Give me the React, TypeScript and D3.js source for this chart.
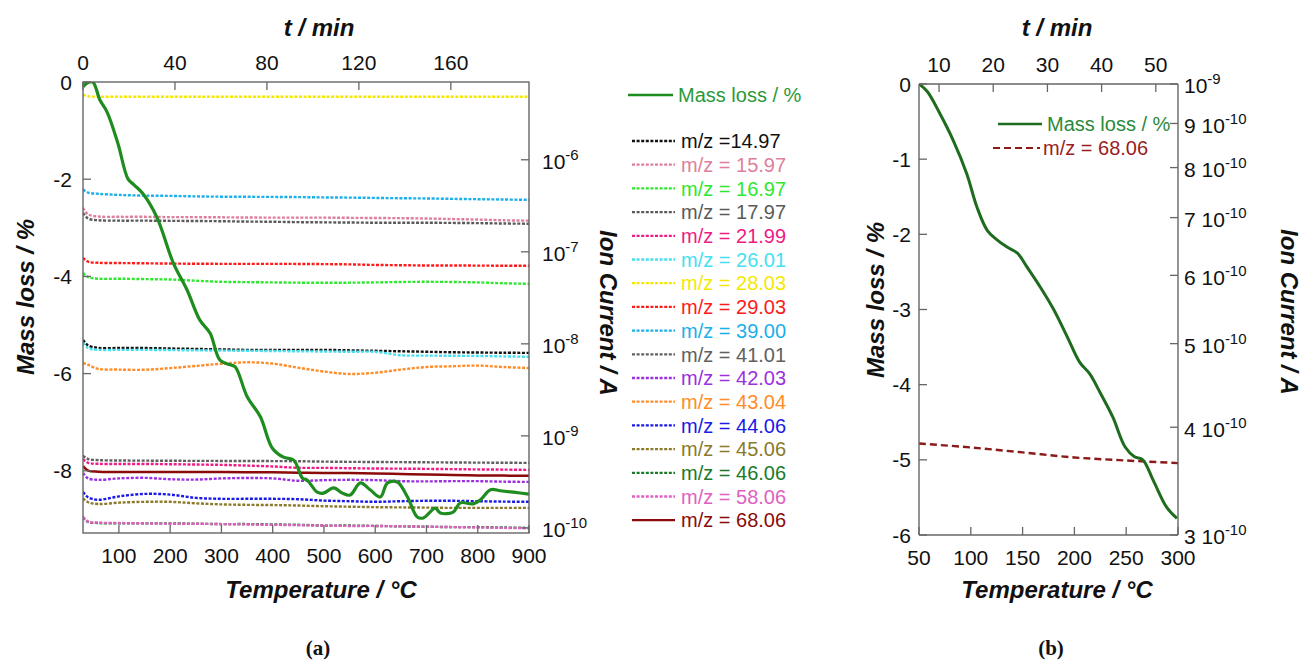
import React from 'react';
import * as d3 from 'd3';

// ---------- Panel (a) data ----------
const massTempA = [30, 38, 49, 63, 77, 98, 118, 130, 147, 174, 206, 233, 258, 278, 297, 317, 327, 350, 376, 399, 421, 441, 458, 467, 487, 499, 519, 536, 551, 571, 590, 610, 624, 643, 663, 682, 694, 717, 727, 752, 766, 791, 805, 825, 844, 870, 900];
const massLossA = [-0.1, -0.02, 0, -0.37, -0.62, -1.26, -2.0, -2.12, -2.3, -2.78, -3.72, -4.28, -4.9, -5.17, -5.72, -5.82, -5.86, -6.47, -6.89, -7.53, -7.72, -7.78, -8.15, -8.19, -8.44, -8.46, -8.35, -8.46, -8.5, -8.25, -8.39, -8.54, -8.25, -8.23, -8.54, -8.95, -8.97, -8.77, -8.87, -8.85, -8.66, -8.68, -8.6, -8.39, -8.41, -8.44, -8.48];

const msTemp = [30, 40, 60, 100, 150, 200, 250, 300, 350, 400, 450, 500, 550, 600, 650, 700, 750, 800, 850, 900];
const mz1497 = [1.1e-8, 9.6e-9, 9.05e-9, 9.0e-9, 9.0e-9, 8.9e-9, 8.8e-9, 8.7e-9, 8.6e-9, 8.6e-9, 8.6e-9, 8.6e-9, 8.5e-9, 8.4e-9, 8.3e-9, 8.2e-9, 8.1e-9, 8.05e-9, 8.0e-9, 7.98e-9];
const mz1597 = [3.0e-7, 2.55e-7, 2.42e-7, 2.4e-7, 2.4e-7, 2.38e-7, 2.38e-7, 2.37e-7, 2.36e-7, 2.35e-7, 2.35e-7, 2.35e-7, 2.34e-7, 2.33e-7, 2.32e-7, 2.3e-7, 2.27e-7, 2.24e-7, 2.2e-7, 2.18e-7];
const mz1697 = [5.9e-8, 5.3e-8, 5.1e-8, 5.1e-8, 5.05e-8, 5.0e-8, 4.85e-8, 4.72e-8, 4.68e-8, 4.65e-8, 4.62e-8, 4.61e-8, 4.62e-8, 4.65e-8, 4.7e-8, 4.72e-8, 4.7e-8, 4.65e-8, 4.55e-8, 4.49e-8];
const mz1797 = [2.65e-7, 2.3e-7, 2.2e-7, 2.18e-7, 2.18e-7, 2.17e-7, 2.16e-7, 2.15e-7, 2.13e-7, 2.12e-7, 2.1e-7, 2.09e-7, 2.08e-7, 2.07e-7, 2.07e-7, 2.07e-7, 2.06e-7, 2.05e-7, 2.03e-7, 2.02e-7];
const mz2199 = [5.6e-10, 5.1e-10, 4.97e-10, 4.95e-10, 4.95e-10, 4.92e-10, 4.88e-10, 4.84e-10, 4.75e-10, 4.65e-10, 4.5e-10, 4.49e-10, 4.45e-10, 4.42e-10, 4.4e-10, 4.38e-10, 4.35e-10, 4.32e-10, 4.3e-10, 4.27e-10];
const mz2601 = [1.03e-8, 9.0e-9, 8.6e-9, 8.6e-9, 8.6e-9, 8.55e-9, 8.5e-9, 8.45e-9, 8.4e-9, 8.35e-9, 8.3e-9, 8.25e-9, 8.2e-9, 8.18e-9, 7.5e-9, 7.45e-9, 7.42e-9, 7.38e-9, 7.3e-9, 7.23e-9];
const mz2803 = [5.1e-6, 4.9e-6, 4.85e-6, 4.84e-6, 4.84e-6, 4.84e-6, 4.84e-6, 4.84e-6, 4.84e-6, 4.84e-6, 4.84e-6, 4.84e-6, 4.84e-6, 4.84e-6, 4.84e-6, 4.84e-6, 4.84e-6, 4.84e-6, 4.84e-6, 4.84e-6];
const mz2903 = [8.6e-8, 7.8e-8, 7.6e-8, 7.55e-8, 7.5e-8, 7.45e-8, 7.42e-8, 7.4e-8, 7.4e-8, 7.4e-8, 7.38e-8, 7.35e-8, 7.3e-8, 7.2e-8, 7.15e-8, 7.1e-8, 7.1e-8, 7.08e-8, 7.06e-8, 7.05e-8];
const mz3900 = [4.75e-7, 4.4e-7, 4.27e-7, 4.15e-7, 4.08e-7, 4.05e-7, 4.0e-7, 3.97e-7, 3.96e-7, 3.95e-7, 3.93e-7, 3.9e-7, 3.88e-7, 3.85e-7, 3.82e-7, 3.8e-7, 3.76e-7, 3.73e-7, 3.7e-7, 3.67e-7];
const mz4101 = [6.1e-10, 5.6e-10, 5.45e-10, 5.4e-10, 5.38e-10, 5.36e-10, 5.35e-10, 5.34e-10, 5.33e-10, 5.32e-10, 5.3e-10, 5.25e-10, 5.22e-10, 5.2e-10, 5.18e-10, 5.16e-10, 5.14e-10, 5.12e-10, 5.1e-10, 5.09e-10];
const mz4203 = [3.96e-10, 3.45e-10, 3.33e-10, 3.45e-10, 3.5e-10, 3.38e-10, 3.35e-10, 3.45e-10, 3.48e-10, 3.45e-10, 3.25e-10, 3.3e-10, 3.33e-10, 3.3e-10, 3.22e-10, 3.2e-10, 3.22e-10, 3.22e-10, 3.18e-10, 3.16e-10];
const mz4304 = [6.2e-9, 5.9e-9, 5.35e-9, 5.25e-9, 5.23e-9, 5.45e-9, 5.75e-9, 6.07e-9, 6.3e-9, 6.1e-9, 5.5e-9, 5.0e-9, 4.7e-9, 4.85e-9, 5.25e-9, 5.6e-9, 5.7e-9, 5.8e-9, 5.6e-9, 5.45e-9];
const mz4406 = [2.45e-10, 2.15e-10, 2.02e-10, 2.2e-10, 2.34e-10, 2.3e-10, 2.12e-10, 2.07e-10, 2.07e-10, 2.07e-10, 2.05e-10, 1.98e-10, 1.95e-10, 1.92e-10, 1.95e-10, 1.97e-10, 1.97e-10, 1.95e-10, 1.93e-10, 1.92e-10];
const mz4506 = [2.1e-10, 1.9e-10, 1.82e-10, 1.88e-10, 1.92e-10, 1.92e-10, 1.85e-10, 1.8e-10, 1.78e-10, 1.77e-10, 1.75e-10, 1.72e-10, 1.7e-10, 1.68e-10, 1.67e-10, 1.66e-10, 1.65e-10, 1.65e-10, 1.65e-10, 1.65e-10];
const mz4606 = [1.3e-10, 1.16e-10, 1.13e-10, 1.12e-10, 1.12e-10, 1.12e-10, 1.11e-10, 1.1e-10, 1.1e-10, 1.09e-10, 1.08e-10, 1.06e-10, 1.06e-10, 1.05e-10, 1.04e-10, 1.03e-10, 1.02e-10, 1.02e-10, 1.01e-10, 1.0e-10];
const mz5806 = [1.32e-10, 1.17e-10, 1.14e-10, 1.13e-10, 1.12e-10, 1.11e-10, 1.11e-10, 1.1e-10, 1.09e-10, 1.08e-10, 1.07e-10, 1.06e-10, 1.05e-10, 1.05e-10, 1.04e-10, 1.03e-10, 1.02e-10, 1.01e-10, 1.0e-10, 0.99e-10];
const mz6806 = [4.7e-10, 4.2e-10, 4.08e-10, 4.06e-10, 4.06e-10, 4.05e-10, 4.05e-10, 4.04e-10, 4.03e-10, 4.02e-10, 3.98e-10, 3.96e-10, 3.94e-10, 3.9e-10, 3.85e-10, 3.8e-10, 3.76e-10, 3.72e-10, 3.7e-10, 3.68e-10];

const seriesLabels = ['m/z =14.97', 'm/z = 15.97', 'm/z = 16.97', 'm/z = 17.97', 'm/z = 21.99', 'm/z = 26.01', 'm/z = 28.03', 'm/z = 29.03', 'm/z = 39.00', 'm/z = 41.01', 'm/z = 42.03', 'm/z = 43.04', 'm/z = 44.06', 'm/z = 45.06', 'm/z = 46.06', 'm/z = 58.06', 'm/z = 68.06'];
const seriesValues = [mz1497, mz1597, mz1697, mz1797, mz2199, mz2601, mz2803, mz2903, mz3900, mz4101, mz4203, mz4304, mz4406, mz4506, mz4606, mz5806, mz6806];
const seriesColors = ['#111111', '#dd7f9b', '#2ee82e', '#5a5a5a', '#ee1a85', '#45e0f0', '#f5e800', '#ff1a1a', '#1ab0ea', '#606060', '#9b30e0', '#ff8c26', '#1a1ae6', '#8a7a2a', '#1a7a2a', '#e060c0', '#8b0a0a'];
const seriesSolid = [false, false, false, false, false, false, false, false, false, false, false, false, false, false, false, false, true];

const tickTempA = [100, 200, 300, 400, 500, 600, 700, 800, 900];
const tickTimeA = [0, 40, 80, 120, 160];
const tickMassA = [0, -2, -4, -6, -8];
const tickIonA = [1e-10, 1e-9, 1e-8, 1e-7, 1e-6];
const tickIonAExp = ['-10', '-9', '-8', '-7', '-6'];

// ---------- Panel (b) data ----------
const massTempB = [50, 58, 70, 83, 96, 106, 116, 125, 135, 145, 154, 167, 180, 193, 205, 215, 225, 237, 249, 258, 266, 276, 289, 299];
const massLossB = [0, -0.1, -0.39, -0.75, -1.19, -1.64, -1.95, -2.07, -2.17, -2.25, -2.43, -2.7, -3.0, -3.36, -3.7, -3.86, -4.11, -4.43, -4.83, -4.96, -5.0, -5.27, -5.63, -5.78];
const msTempB = [50, 100, 150, 200, 250, 300];
const mz6806B = [3.83e-10, 3.79e-10, 3.74e-10, 3.69e-10, 3.66e-10, 3.635e-10];

const tickTempB = [50, 100, 150, 200, 250, 300];
const tickTimeB = [10, 20, 30, 40, 50];
const tickMassB = [0, -1, -2, -3, -4, -5, -6];
const tickIonB = [3e-10, 4e-10, 5e-10, 6e-10, 7e-10, 8e-10, 9e-10, 1e-9];
const tickIonBPre = ['3 10', '4 10', '5 10', '6 10', '7 10', '8 10', '9 10', '10'];
const tickIonBExp = ['-10', '-10', '-10', '-10', '-10', '-10', '-10', '-9'];

const FONT = 'Liberation Sans, Arial, sans-serif';
const AX = '#666666';
const TICK = 8;

export default function App() {
  // Panel (a) geometry
  const A = { l: 83, r: 529, t: 82, b: 533 };
  const xA = d3.scaleLinear().domain([30, 900]).range([A.l, A.r]);
  const tA = d3.scaleLinear().domain([0, 194]).range([A.l, A.r]);
  const yA = d3.scaleLinear().domain([-9.28, 0]).range([A.b, A.t]);
  const iA = d3.scaleLog().domain([8.8e-11, 7e-6]).range([A.b, A.t]);

  // Panel (b) geometry
  const B = { l: 919, r: 1178, t: 84, b: 535 };
  const xB = d3.scaleLinear().domain([50, 300]).range([B.l, B.r]);
  const tB = d3.scaleLinear().domain([6.3, 54.1]).range([B.l, B.r]);
  const yB = d3.scaleLinear().domain([-6, 0]).range([B.b, B.t]);
  const iB = d3.scaleLog().domain([3e-10, 1e-9]).range([B.b, B.t]);

  const massLineA = d3.line<number>().x((_, i) => xA(massTempA[i])).y((d) => yA(d)).curve(d3.curveCatmullRom);
  const msLineA = d3.line<number>().x((_, i) => xA(msTemp[i])).y((d) => iA(d)).curve(d3.curveCatmullRom);
  const massLineB = d3.line<number>().x((_, i) => xB(massTempB[i])).y((d) => yB(d)).curve(d3.curveCatmullRom);
  const msLineB = d3.line<number>().x((_, i) => xB(msTempB[i])).y((d) => iB(d)).curve(d3.curveCatmullRom);

  const legStart = 141;
  const legStep = 23.7;

  return (
    <svg width={1302} height={660} style={{ position: 'absolute', left: 0, top: 0, background: '#fff' }} fontFamily={FONT}>
      <defs>
        <clipPath id="clipA"><rect x={A.l} y={A.t} width={A.r - A.l} height={A.b - A.t} /></clipPath>
        <clipPath id="clipB"><rect x={B.l} y={B.t} width={B.r - B.l} height={B.b - B.t} /></clipPath>
      </defs>
      <rect x={0} y={0} width={1302} height={660} fill="#fff" />

      {/* ===== Panel (a) ===== */}
      <g clipPath="url(#clipA)">
        {seriesValues.map((vals, k) => (
          <path key={k} d={msLineA(vals) || ''} fill="none" stroke={seriesColors[k]} strokeWidth={seriesSolid[k] ? 2.5 : 2.4}
            strokeDasharray={seriesSolid[k] ? undefined : '3,1.6'} />
        ))}
        <path d={massLineA(massLossA) || ''} fill="none" stroke="#1e8c1e" strokeWidth={3.2} strokeLinejoin="round" />
      </g>
      <rect x={A.l} y={A.t} width={A.r - A.l} height={A.b - A.t} fill="none" stroke={AX} strokeWidth={1.4} />
      {/* bottom ticks */}
      {tickTempA.map((v) => (
        <g key={'bx' + v}>
          <line x1={xA(v)} x2={xA(v)} y1={A.b} y2={A.b - TICK} stroke={AX} strokeWidth={1.3} />
          <text x={xA(v)} y={A.b + 30} textAnchor="middle" fontSize={21} fill="#111">{v}</text>
        </g>
      ))}
      {tickTimeA.map((v) => (
        <g key={'tx' + v}>
          <line x1={tA(v)} x2={tA(v)} y1={A.t} y2={A.t + TICK} stroke={AX} strokeWidth={1.3} />
          <text x={tA(v)} y={A.t - 12} textAnchor="middle" fontSize={21} fill="#111">{v}</text>
        </g>
      ))}
      {tickMassA.map((v) => (
        <g key={'ly' + v}>
          <line x1={A.l} x2={A.l + TICK} y1={yA(v)} y2={yA(v)} stroke={AX} strokeWidth={1.3} />
          <text x={A.l - 11} y={yA(v)} dy="0.36em" textAnchor="end" fontSize={21} fill="#111">{v}</text>
        </g>
      ))}
      {tickIonA.map((v, k) => (
        <g key={'ry' + k}>
          <line x1={A.r} x2={A.r - TICK} y1={iA(v)} y2={iA(v)} stroke={AX} strokeWidth={1.3} />
          <text x={A.r + 13} y={iA(v)} dy="0.45em" fontSize={21} fill="#111">10<tspan dy="-9" fontSize={15}>{tickIonAExp[k]}</tspan></text>
        </g>
      ))}
      <text x={319} y={36} textAnchor="middle" fontSize={24} fontWeight="bold" fontStyle="italic" fill="#111">t / min</text>
      <text x={321} y={598} textAnchor="middle" fontSize={24} fontWeight="bold" fontStyle="italic" fill="#111">Temperature / °C</text>
      <text transform="translate(26,297) rotate(-90)" dy="0.35em" textAnchor="middle" fontSize={24} fontWeight="bold" fontStyle="italic" fill="#111">Mass loss / %</text>
      <text transform="translate(608,313) rotate(90)" dy="0.35em" textAnchor="middle" fontSize={24} fontWeight="bold" fontStyle="italic" fill="#111">Ion Current / A</text>

      {/* legend (a) */}
      <line x1={628} x2={673} y1={95} y2={95} stroke="#1e8c1e" strokeWidth={2.6} />
      <text x={678} y={95} dy="0.36em" fontSize={20} fill="#2a9a3a">Mass loss / %</text>
      {seriesLabels.map((lab, k) => (
        <g key={'lg' + k}>
          <line x1={632} x2={675} y1={legStart + k * legStep} y2={legStart + k * legStep} stroke={seriesColors[k]}
            strokeWidth={2.3} strokeDasharray={seriesSolid[k] ? undefined : '3,1.6'} />
          <text x={681} y={legStart + k * legStep} dy="0.36em" fontSize={20} fill={seriesColors[k]}>{lab}</text>
        </g>
      ))}

      {/* ===== Panel (b) ===== */}
      <g clipPath="url(#clipB)">
        <path d={msLineB(mz6806B) || ''} fill="none" stroke="#8b1a1a" strokeWidth={2.4} strokeDasharray="7,4" />
        <path d={massLineB(massLossB) || ''} fill="none" stroke="#1f6b1f" strokeWidth={3} strokeLinejoin="round" />
      </g>
      <line x1={B.l} x2={B.l} y1={B.t} y2={B.b} stroke={AX} strokeWidth={1.4} />
      <line x1={B.r} x2={B.r} y1={B.t} y2={B.b} stroke={AX} strokeWidth={1.4} />
      <line x1={B.l} x2={B.r} y1={B.t} y2={B.t} stroke={AX} strokeWidth={1.4} />
      <line x1={B.l} x2={B.r} y1={B.b} y2={B.b} stroke={AX} strokeWidth={1.4} />
      {tickTempB.map((v) => (
        <g key={'bbx' + v}>
          <line x1={xB(v)} x2={xB(v)} y1={B.b} y2={B.b - TICK} stroke={AX} strokeWidth={1.3} />
          <text x={xB(v)} y={B.b + 30} textAnchor="middle" fontSize={21} fill="#111">{v}</text>
        </g>
      ))}
      {tickTimeB.map((v) => (
        <g key={'btx' + v}>
          <line x1={tB(v)} x2={tB(v)} y1={B.t} y2={B.t + TICK} stroke={AX} strokeWidth={1.3} />
          <text x={tB(v)} y={B.t - 12} textAnchor="middle" fontSize={21} fill="#111">{v}</text>
        </g>
      ))}
      {tickMassB.map((v) => (
        <g key={'bly' + v}>
          <line x1={B.l} x2={B.l + TICK} y1={yB(v)} y2={yB(v)} stroke={AX} strokeWidth={1.3} />
          <text x={B.l - 8} y={yB(v)} dy="0.36em" textAnchor="end" fontSize={21} fill="#111">{v}</text>
        </g>
      ))}
      {tickIonB.map((v, k) => (
        <g key={'bry' + k}>
          <line x1={B.r} x2={B.r - TICK} y1={iB(v)} y2={iB(v)} stroke={AX} strokeWidth={1.3} />
          <text x={B.r + 6} y={iB(v)} dy="0.45em" fontSize={21} fill="#111">{tickIonBPre[k]}<tspan dy="-9" fontSize={15}>{tickIonBExp[k]}</tspan></text>
        </g>
      ))}
      <text x={1057} y={36} textAnchor="middle" fontSize={24} fontWeight="bold" fontStyle="italic" fill="#111">t / min</text>
      <text x={1057} y={598} textAnchor="middle" fontSize={24} fontWeight="bold" fontStyle="italic" fill="#111">Temperature / °C</text>
      <text transform="translate(876,300) rotate(-90)" dy="0.35em" textAnchor="middle" fontSize={24} fontWeight="bold" fontStyle="italic" fill="#111">Mass loss / %</text>
      <text transform="translate(1289,312) rotate(90)" dy="0.35em" textAnchor="middle" fontSize={24} fontWeight="bold" fontStyle="italic" fill="#111">Ion Current / A</text>

      {/* legend (b) */}
      <line x1={998} x2={1042} y1={124} y2={124} stroke="#1f6b1f" strokeWidth={2.6} />
      <text x={1047} y={124} dy="0.36em" fontSize={20} fill="#2a8a3a">Mass loss / %</text>
      <line x1={993} x2={1040} y1={148} y2={148} stroke="#8b1a1a" strokeWidth={2.2} strokeDasharray="7,4" />
      <text x={1043} y={148} dy="0.36em" fontSize={20} fill="#9b1c1c">m/z = 68.06</text>

      <text x={318} y={655} textAnchor="middle" fontSize={21} fontWeight="bold" fontFamily="Liberation Serif, Times New Roman, serif" fill="#111">(a)</text>
      <text x={1051} y={655} textAnchor="middle" fontSize={21} fontWeight="bold" fontFamily="Liberation Serif, Times New Roman, serif" fill="#111">(b)</text>
    </svg>
  );
}
